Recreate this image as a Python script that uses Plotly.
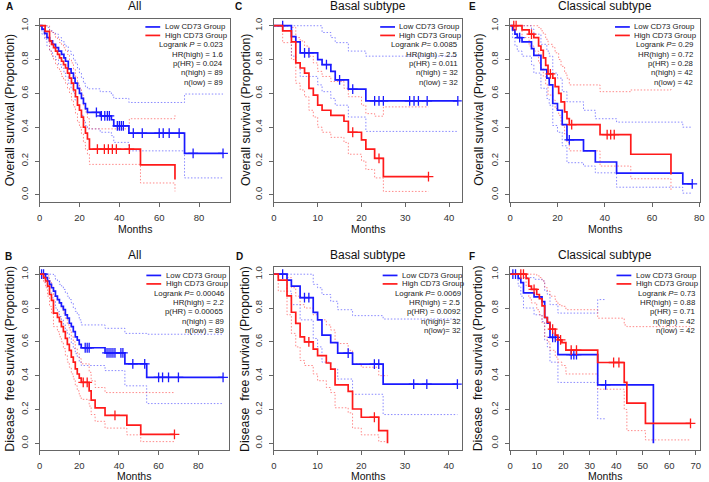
import plotly.graph_objects as go

W, H = 709, 482
FONT = "Liberation Sans, Arial, sans-serif"
BLUE = "#1a1aff"
RED = "#ff1a1a"
BLUE_CI = "rgba(60,60,255,0.6)"
RED_CI = "rgba(255,60,60,0.6)"

# ---------------- data ----------------
# Panel A: Overall survival, All
A_low_t = [0, 1.2, 2.5, 3.7, 5, 6.5, 8, 9.5, 11, 12.2, 13, 14.4, 15.8, 17, 17.8, 19, 20, 21, 22, 23, 24, 30.4, 36, 37.2, 44.8, 72.7]
A_low_s = [1.0, 0.98, 0.955, 0.93, 0.91, 0.89, 0.87, 0.85, 0.83, 0.81, 0.79, 0.745, 0.72, 0.69, 0.66, 0.63, 0.60, 0.57, 0.54, 0.51, 0.487, 0.467, 0.444, 0.408, 0.365, 0.245]
A_low_up = [1.0, 1.0, 1.0, 0.99, 0.97, 0.96, 0.95, 0.93, 0.91, 0.89, 0.88, 0.85, 0.83, 0.80, 0.78, 0.75, 0.72, 0.69, 0.66, 0.64, 0.627, 0.61, 0.59, 0.57, 0.546, 0.596]
A_low_lo = [1.0, 0.95, 0.92, 0.88, 0.85, 0.82, 0.80, 0.77, 0.75, 0.72, 0.70, 0.66, 0.63, 0.60, 0.56, 0.53, 0.50, 0.47, 0.44, 0.41, 0.39, 0.37, 0.35, 0.31, 0.26, 0.10]
A_low_cens = [28.5, 31, 32.7, 34, 35, 39, 40, 41, 42, 47, 51.5, 60, 62, 65, 70, 77, 92]
A_low_end = 92

A_high_t = [0, 2.8, 5, 6, 7, 8, 9, 10, 11, 12, 13, 14, 15, 16, 17, 18, 19, 20, 21, 22, 23, 24, 25, 45, 50.6, 67.9]
A_high_s = [1.0, 0.966, 0.91, 0.89, 0.87, 0.85, 0.83, 0.81, 0.79, 0.77, 0.75, 0.72, 0.69, 0.66, 0.62, 0.58, 0.53, 0.50, 0.46, 0.40, 0.365, 0.33, 0.27, 0.27, 0.177, 0.09]
A_high_up = [1.0, 1.0, 0.97, 0.96, 0.95, 0.93, 0.92, 0.90, 0.89, 0.87, 0.85, 0.83, 0.80, 0.78, 0.74, 0.70, 0.66, 0.63, 0.59, 0.53, 0.49, 0.45, 0.39, 0.45, 0.45, 0.47]
A_high_lo = [1.0, 0.93, 0.85, 0.82, 0.80, 0.77, 0.75, 0.73, 0.70, 0.68, 0.66, 0.63, 0.60, 0.56, 0.52, 0.48, 0.43, 0.40, 0.36, 0.31, 0.27, 0.24, 0.18, 0.18, 0.07, 0.02]
A_high_cens = [29, 32.5, 34.5, 36.5, 38.5, 45]
A_high_end = 67.9

# Panel C: Overall survival, Basal subtype
C_low_t = [0, 4, 5, 6, 10, 11, 13, 14, 17, 21]
C_low_s = [1.0, 0.935, 0.905, 0.84, 0.80, 0.77, 0.73, 0.68, 0.625, 0.555]
C_low_up = [1.0, 1.0, 1.0, 1.0, 1.0, 0.96, 0.93, 0.90, 0.85, 0.82]
C_low_lo = [1.0, 0.82, 0.78, 0.70, 0.65, 0.61, 0.57, 0.53, 0.46, 0.375]
C_low_cens = [2, 7, 8, 12, 15, 18, 23, 24, 25, 31, 32, 33, 35, 42]
C_low_end = 42

C_high_t = [0, 2, 4, 5, 6, 7, 8, 9, 10, 11, 13, 16, 17, 20, 21, 23, 25]
C_high_s = [1.0, 0.97, 0.905, 0.78, 0.75, 0.72, 0.63, 0.59, 0.53, 0.50, 0.47, 0.435, 0.37, 0.325, 0.27, 0.215, 0.108]
C_high_up = [1.0, 1.0, 0.99, 0.93, 0.91, 0.88, 0.82, 0.78, 0.73, 0.70, 0.67, 0.63, 0.58, 0.53, 0.48, 0.465, 0.52]
C_high_lo = [1.0, 0.90, 0.80, 0.66, 0.62, 0.58, 0.50, 0.46, 0.40, 0.37, 0.34, 0.31, 0.24, 0.20, 0.15, 0.10, 0.02]
C_high_cens = [18, 24, 35.3]
C_high_end = 35.3

# Panel E: Overall survival, Classical subtype
E_low_t = [0, 1, 2, 3, 5, 9, 10, 13, 15.5, 16.5, 18, 20, 22, 24, 31, 36, 45, 73]
E_low_s = [1.0, 0.975, 0.95, 0.93, 0.905, 0.865, 0.825, 0.74, 0.69, 0.65, 0.54, 0.50, 0.415, 0.325, 0.26, 0.194, 0.128, 0.065]
E_low_up = [1.0, 1.0, 1.0, 1.0, 1.0, 0.98, 0.95, 0.89, 0.85, 0.82, 0.72, 0.69, 0.61, 0.55, 0.50, 0.45, 0.43, 0.40]
E_low_lo = [1.0, 0.93, 0.88, 0.85, 0.82, 0.77, 0.72, 0.63, 0.57, 0.53, 0.41, 0.37, 0.29, 0.19, 0.17, 0.13, 0.045, 0.01]
E_low_cens = [4, 25, 77]
E_low_end = 77

E_high_t = [0, 5, 8, 10, 12, 13, 14, 15, 16, 18, 19, 20.5, 21.5, 23, 24, 25, 38, 51, 68]
E_high_s = [1.0, 0.975, 0.95, 0.93, 0.88, 0.855, 0.81, 0.765, 0.715, 0.69, 0.64, 0.60, 0.55, 0.49, 0.45, 0.415, 0.356, 0.24, 0.12]
E_high_up = [1.0, 1.0, 1.0, 1.0, 0.99, 0.97, 0.95, 0.92, 0.89, 0.87, 0.84, 0.80, 0.76, 0.72, 0.69, 0.65, 0.61, 0.62, 0.63]
E_high_lo = [1.0, 0.93, 0.88, 0.85, 0.78, 0.75, 0.70, 0.65, 0.59, 0.56, 0.51, 0.47, 0.41, 0.36, 0.31, 0.26, 0.17, 0.095, 0.02]
E_high_cens = [1.5, 2.5, 9, 17, 26, 41, 42.5, 44]
E_high_end = 68

# Panel B: Disease free survival, All
B_low_t = [0, 3, 4, 5, 6, 7, 8, 9, 10, 11, 12, 13, 14, 15, 16, 17, 18, 19, 20, 21, 33, 43, 54]
B_low_s = [1.0, 0.98, 0.96, 0.94, 0.92, 0.90, 0.87, 0.85, 0.83, 0.81, 0.79, 0.76, 0.74, 0.71, 0.69, 0.66, 0.63, 0.61, 0.585, 0.565, 0.535, 0.47, 0.39]
B_low_up = [1.0, 1.0, 1.0, 1.0, 1.0, 0.99, 0.97, 0.96, 0.94, 0.93, 0.91, 0.89, 0.87, 0.85, 0.83, 0.80, 0.78, 0.76, 0.73, 0.70, 0.68, 0.65, 0.645]
B_low_lo = [1.0, 0.95, 0.92, 0.89, 0.86, 0.84, 0.80, 0.78, 0.75, 0.73, 0.70, 0.67, 0.65, 0.62, 0.59, 0.56, 0.53, 0.51, 0.48, 0.46, 0.43, 0.34, 0.235]
B_low_cens = [1, 2, 23, 24, 25, 34, 35, 36, 37, 38, 41, 42, 47, 53, 60, 62, 65, 70, 92.5]
B_low_end = 92.5

B_high_t = [0, 2, 3, 4, 5, 6, 7, 9, 10, 11, 12, 13, 14, 15, 16, 17, 18, 19, 20, 21, 25, 26, 28, 33, 44, 51]
B_high_s = [1.0, 0.98, 0.96, 0.93, 0.88, 0.845, 0.77, 0.745, 0.72, 0.69, 0.66, 0.62, 0.585, 0.55, 0.51, 0.48, 0.44, 0.41, 0.385, 0.36, 0.31, 0.255, 0.21, 0.165, 0.108, 0.053]
B_high_up = [1.0, 1.0, 1.0, 0.99, 0.96, 0.93, 0.87, 0.85, 0.83, 0.80, 0.77, 0.74, 0.70, 0.67, 0.63, 0.60, 0.56, 0.53, 0.50, 0.47, 0.42, 0.37, 0.33, 0.30, 0.30, 0.30]
B_high_lo = [1.0, 0.95, 0.92, 0.87, 0.81, 0.77, 0.69, 0.66, 0.63, 0.60, 0.56, 0.52, 0.48, 0.45, 0.41, 0.38, 0.34, 0.31, 0.28, 0.26, 0.22, 0.17, 0.13, 0.09, 0.05, 0.01]
B_high_cens = [22, 24, 38, 68]
B_high_end = 68

# Panel D: Disease free survival, Basal subtype
D_low_t = [0, 3, 4, 6, 9, 10, 11, 13, 14.6, 18, 25]
D_low_s = [1.0, 0.965, 0.93, 0.862, 0.774, 0.73, 0.64, 0.596, 0.533, 0.468, 0.35]
D_low_up = [1.0, 1.0, 1.0, 1.0, 0.94, 0.92, 0.88, 0.84, 0.79, 0.755, 0.735]
D_low_lo = [1.0, 0.9, 0.82, 0.73, 0.62, 0.57, 0.48, 0.44, 0.38, 0.29, 0.17]
D_low_cens = [2, 7, 8, 17, 23, 24, 32, 35, 42]
D_low_end = 42

D_high_t = [0, 1, 3, 4, 5, 6, 7, 9, 10, 12, 13, 14, 17, 18, 20, 24, 26]
D_high_s = [1.0, 0.965, 0.872, 0.775, 0.709, 0.63, 0.60, 0.557, 0.518, 0.475, 0.439, 0.345, 0.307, 0.203, 0.154, 0.075, 0.0]
D_high_up = [1.0, 1.0, 0.98, 0.92, 0.87, 0.82, 0.80, 0.76, 0.73, 0.70, 0.67, 0.59, 0.55, 0.47, 0.45, 0.40, None]
D_high_lo = [1.0, 0.9, 0.76, 0.65, 0.57, 0.49, 0.46, 0.41, 0.37, 0.33, 0.30, 0.21, 0.18, 0.09, 0.05, 0.01, None]
D_high_cens = [8, 23]
D_high_end = 26

# Panel F: Disease free survival, Classical subtype
F_low_t = [0, 3, 4, 5, 9, 12, 13, 14, 15, 18, 33, 54]
F_low_s = [1.0, 0.975, 0.95, 0.89, 0.866, 0.838, 0.744, 0.71, 0.626, 0.524, 0.346, 0.0]
F_low_up = [1.0, 1.0, 1.0, 0.98, 0.97, 0.96, 0.90, 0.88, 0.82, 0.77, 0.85, None]
F_low_lo = [1.0, 0.93, 0.87, 0.80, 0.76, 0.72, 0.61, 0.57, 0.48, 0.36, 0.145, None]
F_low_cens = [1, 2, 16, 17, 23, 24, 25, 36]
F_low_end = 54
F_low_ci_end = 36

F_high_t = [0, 6, 7, 8, 10, 11, 12, 13, 14, 15, 17, 18, 19.5, 21, 33, 43, 44, 51]
F_high_s = [1.0, 0.975, 0.93, 0.91, 0.88, 0.855, 0.813, 0.744, 0.715, 0.675, 0.64, 0.612, 0.596, 0.551, 0.478, 0.36, 0.238, 0.118]
F_high_up = [1.0, 1.0, 1.0, 1.0, 0.99, 0.98, 0.96, 0.92, 0.90, 0.87, 0.84, 0.82, 0.81, 0.79, 0.74, 0.70, 0.69, 0.69]
F_high_lo = [1.0, 0.93, 0.86, 0.83, 0.79, 0.76, 0.71, 0.63, 0.60, 0.55, 0.51, 0.48, 0.46, 0.41, 0.32, 0.20, 0.075, 0.02]
F_high_cens = [4, 5, 9, 16, 19, 23, 25, 39, 41, 68]
F_high_end = 68

# Texts
panel_letters = ["A", "C", "E", "B", "D", "F"]
panel_titles = ["All", "Basal subtype", "Classical subtype", "All", "Basal subtype", "Classical subtype"]
y_titles = ["Overall survival (Proportion)"] * 3 + ["Disease  free survival (Proportion)"] * 3
x_title = "Months"
legend_labels = ["Low CD73 Group", "High CD73 Group"]
stats_text = [
    ["Logrank <i>P</i> = 0.023", "HR(high) = 1.6", "p(HR) = 0.024", "n(high) = 89", "n(low) = 89"],
    ["Logrank <i>P</i>= 0.0085", "HR(high) = 2.5", "p(HR) = 0.011", "n(high) = 32", "n(low) = 32"],
    ["Logrank <i>P</i>= 0.29", "HR(high) = 0.72", "p(HR) = 0.28", "n(high) = 42", "n(low) = 42"],
    ["Logrank <i>P</i>= 0.00046", "HR(high) = 2.2", "p(HR) = 0.00065", "n(high) = 89", "n(low) = 89"],
    ["Logrank <i>P</i>= 0.0069", "HR(high) = 2.5", "p(HR) = 0.0092", "n(high)= 32", "n(low)= 32"],
    ["Logrank <i>P</i>= 0.73", "HR(high) = 0.88", "p(HR) = 0.71", "n(high) = 42", "n(low) = 42"],
]
x_ticks = [[0, 20, 40, 60, 80], [0, 10, 20, 30, 40], [0, 20, 40, 60, 80],
           [0, 20, 40, 60, 80], [0, 10, 20, 30, 40], [0, 10, 20, 30, 40, 50, 60, 70]]
x_max = [95.7, 42.9, 80.3, 95.7, 43.0, 71.6]
y_ticks = [0.0, 0.2, 0.4, 0.6, 0.8, 1.0]

# ---------------- layout geometry (pixels) ----------------
boxes = [  # left, right, top, bottom
    (37, 230, 18, 201), (274, 464, 18, 201), (513, 705, 18, 201),
    (37, 229, 267, 450), (274, 464, 267, 450), (513, 705, 267, 450),
]
letter_pos = [(6.5, 5.5), (238.5, 5.5), (474.5, 5.5), (5.5, 256), (239.5, 256), (474.5, 256)]
ytitle_x = [7, 246.5, 482, 7, 245, 480]
xtitle_off = [27.7, 27.7, 27.7, 25.5, 25.5, 25.5]
stats_right = [225, 462.5, 700, 226, 465, 701.5]
row_off = [8, 16.5, 25.8, 35.2, 44.5, 53.8, 63.3]

panels = [
    dict(low=(A_low_t, A_low_s, A_low_up, A_low_lo, A_low_cens, A_low_end, None),
         high=(A_high_t, A_high_s, A_high_up, A_high_lo, A_high_cens, A_high_end, None)),
    dict(low=(C_low_t, C_low_s, C_low_up, C_low_lo, C_low_cens, C_low_end, None),
         high=(C_high_t, C_high_s, C_high_up, C_high_lo, C_high_cens, C_high_end, None)),
    dict(low=(E_low_t, E_low_s, E_low_up, E_low_lo, E_low_cens, E_low_end, None),
         high=(E_high_t, E_high_s, E_high_up, E_high_lo, E_high_cens, E_high_end, None)),
    dict(low=(B_low_t, B_low_s, B_low_up, B_low_lo, B_low_cens, B_low_end, None),
         high=(B_high_t, B_high_s, B_high_up, B_high_lo, B_high_cens, B_high_end, None)),
    dict(low=(D_low_t, D_low_s, D_low_up, D_low_lo, D_low_cens, D_low_end, None),
         high=(D_high_t, D_high_s, D_high_up, D_high_lo, D_high_cens, D_high_end, None)),
    dict(low=(F_low_t, F_low_s, F_low_up, F_low_lo, F_low_cens, F_low_end, F_low_ci_end),
         high=(F_high_t, F_high_s, F_high_up, F_high_lo, F_high_cens, F_high_end, None)),
]


def px(x):
    return x / W


def py(y):
    return 1 - y / H


def step_xy(t, v, end):
    pts = [(a, b) for a, b in zip(t, v) if b is not None]
    xs = [p[0] for p in pts] + [end]
    ys = [p[1] for p in pts] + [pts[-1][1]]
    return xs, ys


def surv_at(t, s, c):
    val = s[0]
    for a, b in zip(t, s):
        if a <= c:
            val = b
    return val


fig = go.Figure()
layout_axes = {}
annotations = []
shapes = []

for i, (panel, box) in enumerate(zip(panels, boxes)):
    k = i + 1
    xa = "x" if k == 1 else f"x{k}"
    ya = "y" if k == 1 else f"y{k}"
    l, r, t_, b = box
    for key, col, cicol in (("low", BLUE, BLUE_CI), ("high", RED, RED_CI)):
        t, s, up, lo, cens, end, ci_end = panel[key]
        ce = end if ci_end is None else ci_end
        for ci in (up, lo):
            xs, ys = step_xy(t, ci, ce)
            fig.add_trace(go.Scatter(x=xs, y=ys, mode="lines", line_shape="hv",
                                     line=dict(color=cicol, width=1, dash="1.5px,1.8px"),
                                     xaxis=xa, yaxis=ya, showlegend=False, hoverinfo="skip"))
    for key, col in (("low", BLUE), ("high", RED)):
        t, s, up, lo, cens, end, ci_end = panel[key]
        xs, ys = step_xy(t, s, end)
        fig.add_trace(go.Scatter(x=xs, y=ys, mode="lines", line_shape="hv",
                                 line=dict(color=col, width=1.7),
                                 xaxis=xa, yaxis=ya, showlegend=False))
        fig.add_trace(go.Scatter(x=cens, y=[surv_at(t, s, c) for c in cens], mode="markers",
                                 marker=dict(symbol="cross-thin", size=7, color=col,
                                             line=dict(color=col, width=1.3)),
                                 xaxis=xa, yaxis=ya, showlegend=False))

    common = dict(showline=True, mirror=True, linecolor="#666", linewidth=1,
                  ticks="outside", ticklen=4, tickcolor="#666", tickwidth=1,
                  showgrid=False, zeroline=False,
                  tickfont=dict(family=FONT, size=9.5, color="#333"))
    layout_axes["xaxis" if k == 1 else f"xaxis{k}"] = dict(
        domain=[px(l), px(r)], range=[0, x_max[i]], anchor=ya,
        tickvals=x_ticks[i], ticktext=[str(v) for v in x_ticks[i]],
        ticklabelstandoff=3, **common)
    layout_axes["yaxis" if k == 1 else f"yaxis{k}"] = dict(
        domain=[py(b), py(t_)], range=[-0.04, 1.04], anchor=xa,
        tickvals=y_ticks, ticktext=[f"{v:.1f}" for v in y_ticks], tickangle=-90,
        ticklabelstandoff=3, **common)

    cx = (l + r) / 2
    cy = (t_ + b) / 2
    annotations.append(dict(x=px(cx), y=py(t_ - 12.5), xref="paper", yref="paper",
                            text=panel_titles[i], showarrow=False,
                            font=dict(family=FONT, size=12, color="#111"),
                            xanchor="center", yanchor="middle"))
    lx, ly = letter_pos[i]
    annotations.append(dict(x=px(lx), y=py(ly), xref="paper", yref="paper",
                            text=f"<b>{panel_letters[i]}</b>", showarrow=False,
                            font=dict(family=FONT, size=10, color="#111"),
                            xanchor="center", yanchor="middle"))
    annotations.append(dict(x=px(ytitle_x[i]), y=py(cy), xref="paper", yref="paper",
                            text=y_titles[i], showarrow=False, textangle=-90,
                            font=dict(family=FONT, size=12.3, color="#111"),
                            xanchor="center", yanchor="middle"))
    annotations.append(dict(x=px(cx), y=py(b + xtitle_off[i]), xref="paper", yref="paper",
                            text=x_title, showarrow=False,
                            font=dict(family=FONT, size=10.5, color="#111"),
                            xanchor="center", yanchor="middle"))
    R = stats_right[i]
    for j, (lab, col) in enumerate(zip(legend_labels, (BLUE, RED))):
        yy = t_ + row_off[j]
        shapes.append(dict(type="line", xref="paper", yref="paper",
                           x0=px(R - 81), x1=px(R - 66), y0=py(yy), y1=py(yy),
                           line=dict(color=col, width=1.7)))
        annotations.append(dict(x=px(R - 63.5), y=py(yy), xref="paper", yref="paper",
                                text=lab, showarrow=False,
                                font=dict(family=FONT, size=7.8, color="#222"),
                                xanchor="left", yanchor="middle"))
    for j, txt in enumerate(stats_text[i]):
        yy = t_ + row_off[j + 2]
        annotations.append(dict(x=px(R), y=py(yy), xref="paper", yref="paper",
                                text=txt, showarrow=False,
                                font=dict(family=FONT, size=7.8, color="#222"),
                                xanchor="right", yanchor="middle"))

fig.update_layout(width=W, height=H, margin=dict(l=0, r=0, t=0, b=0),
                  paper_bgcolor="white", plot_bgcolor="white",
                  showlegend=False, annotations=annotations, shapes=shapes,
                  **layout_axes)

fig.write_html("out.html", config={"displayModeBar": False},
               post_script="document.body.style.margin='0px';document.body.style.padding='0px';document.body.style.overflow='hidden';")
